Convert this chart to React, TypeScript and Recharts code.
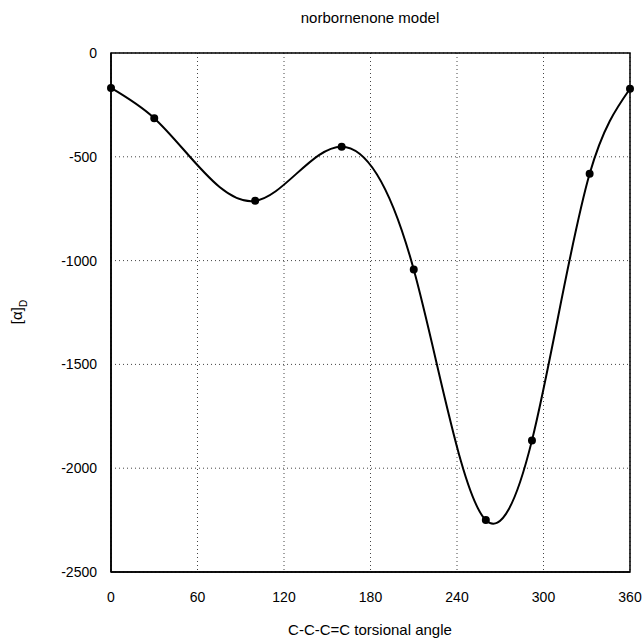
import { CartesianGrid, Line, LineChart, ReferenceArea, XAxis, YAxis } from "recharts";

const angles = [0, 30, 100, 160, 210, 260, 292, 332, 360];
const rotation = [-168, -314, -712, -451, -1043, -2250, -1866, -582, -172];
const xTicks = [0, 60, 120, 180, 240, 300, 360];
const yTicks = [0, -500, -1000, -1500, -2000, -2500];

const data = angles.map((a, i) => ({ angle: a, value: rotation[i] }));

const font = "Liberation Sans, Arial, sans-serif";

// natural cubic spline y(x) drawn as bezier segments (function-style spline, not index-based)
function splineX(context: any) {
  let xs: number[] = [];
  let ys: number[] = [];
  return {
    areaStart() {},
    areaEnd() {},
    lineStart() {
      xs = [];
      ys = [];
    },
    point(x: number, y: number) {
      xs.push(+x);
      ys.push(+y);
    },
    lineEnd() {
      const n = xs.length;
      if (n === 0) return;
      context.moveTo(xs[0], ys[0]);
      if (n < 3) {
        for (let i = 1; i < n; i++) context.lineTo(xs[i], ys[i]);
        return;
      }
      const h: number[] = [];
      for (let i = 0; i < n - 1; i++) h.push(xs[i + 1] - xs[i]);
      // tridiagonal solve for second derivatives, M0 = Mn-1 = 0
      const a: number[] = new Array(n).fill(0);
      const b: number[] = new Array(n).fill(1);
      const c: number[] = new Array(n).fill(0);
      const r: number[] = new Array(n).fill(0);
      for (let i = 1; i < n - 1; i++) {
        a[i] = h[i - 1];
        b[i] = 2 * (h[i - 1] + h[i]);
        c[i] = h[i];
        r[i] = 6 * ((ys[i + 1] - ys[i]) / h[i] - (ys[i] - ys[i - 1]) / h[i - 1]);
      }
      for (let i = 1; i < n; i++) {
        const m = a[i] / b[i - 1];
        b[i] -= m * c[i - 1];
        r[i] -= m * r[i - 1];
      }
      const M: number[] = new Array(n).fill(0);
      M[n - 1] = r[n - 1] / b[n - 1];
      for (let i = n - 2; i >= 0; i--) M[i] = (r[i] - c[i] * M[i + 1]) / b[i];
      for (let i = 0; i < n - 1; i++) {
        const hi = h[i];
        const d = (ys[i + 1] - ys[i]) / hi;
        const s0 = d - (hi * (2 * M[i] + M[i + 1])) / 6;
        const s1 = d + (hi * (M[i] + 2 * M[i + 1])) / 6;
        context.bezierCurveTo(
          xs[i] + hi / 3,
          ys[i] + (s0 * hi) / 3,
          xs[i + 1] - hi / 3,
          ys[i + 1] - (s1 * hi) / 3,
          xs[i + 1],
          ys[i + 1]
        );
      }
    },
  };
}

export default function App() {
  return (
    <div style={{ position: "absolute", left: 0, top: 0, width: 644, height: 639, background: "#fff" }}>
      <LineChart
        width={644}
        height={639}
        data={data}
        margin={{ top: 53, right: 14, bottom: 37, left: 51 }}
        style={{ fontFamily: font }}
      >
        <CartesianGrid stroke="#444" strokeDasharray="1 3" />
        <XAxis
          dataKey="angle"
          type="number"
          domain={[0, 360]}
          ticks={xTicks}
          height={30}
          tickLine={false}
          axisLine={{ stroke: "#000", strokeWidth: 1.5 }}
          tick={{ fill: "#000", fontSize: 14, dy: 12 }}
        />
        <YAxis
          type="number"
          domain={[-2500, 0]}
          ticks={yTicks}
          width={60}
          tickLine={false}
          axisLine={{ stroke: "#000", strokeWidth: 1.5 }}
          tick={{ fill: "#000", fontSize: 14, dx: -6 }}
        />
        <ReferenceArea x1={0} x2={360} y1={-2500} y2={0} fill="none" stroke="#000" strokeWidth={1.5} />
        <Line
          type={splineX as any}
          dataKey="value"
          stroke="#000"
          strokeWidth={2}
          dot={{ r: 3, fill: "#000", stroke: "#000" }}
          isAnimationActive={false}
        />
        <text x={370} y={23} textAnchor="middle" fontSize={15} fill="#000" fontFamily={font}>
          norbornenone model
        </text>
        <text x={370} y={635} textAnchor="middle" fontSize={15} fill="#000" fontFamily={font}>
          C-C-C=C torsional angle
        </text>
        <text
          x={22}
          y={312}
          textAnchor="middle"
          fontSize={15}
          fill="#000"
          fontFamily={font}
          transform="rotate(-90 22 312)"
        >
          [α]
          <tspan fontSize={10} dy={5}>D</tspan>
        </text>
      </LineChart>
    </div>
  );
}
